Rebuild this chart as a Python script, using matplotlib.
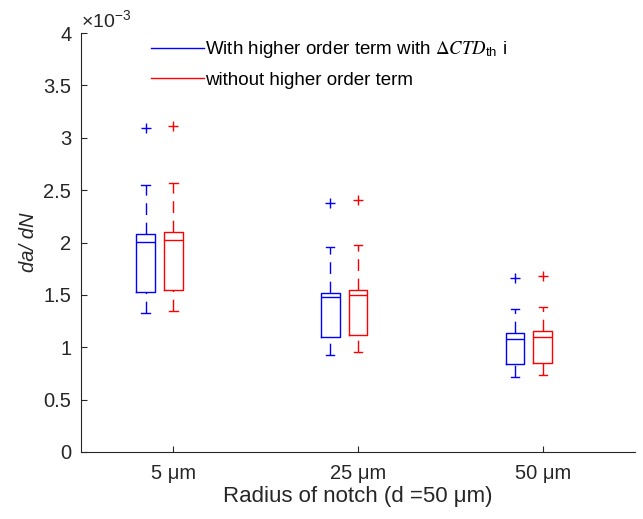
import matplotlib
matplotlib.use("Agg")
import matplotlib.pyplot as plt
from matplotlib.lines import Line2D
from matplotlib.ticker import FuncFormatter

plt.rcParams['font.family'] = ['Liberation Sans', 'DejaVu Sans']
plt.rcParams['mathtext.fontset'] = 'stix'

# ---- data (da/dN values) ----
categories = ['5 μm', '25 μm', '50 μm']
series_labels = [r'With higher order term with $\Delta\mathit{CTD}_{\mathregular{th}}$ i',
                 'without higher order term']
# per group: [lower whisker, q1, median, q3, upper whisker], outliers
with_hot_stats = [
    [1.330e-3, 1.527e-3, 2.002e-3, 2.081e-3, 2.552e-3],
    [0.929e-3, 1.095e-3, 1.477e-3, 1.518e-3, 1.954e-3],
    [0.719e-3, 0.837e-3, 1.082e-3, 1.133e-3, 1.368e-3],
]
with_hot_outliers = [[3.096e-3], [2.377e-3], [1.664e-3]]
without_hot_stats = [
    [1.349e-3, 1.550e-3, 2.021e-3, 2.100e-3, 2.571e-3],
    [0.958e-3, 1.120e-3, 1.502e-3, 1.550e-3, 1.979e-3],
    [0.738e-3, 0.853e-3, 1.098e-3, 1.152e-3, 1.384e-3],
]
without_hot_outliers = [[3.115e-3], [2.406e-3], [1.680e-3]]
yticks = [0, 0.5, 1, 1.5, 2, 2.5, 3, 3.5, 4]
scale = 1e3  # axis shown in units of 10^-3

colors = ['#0000ff', '#ff0000']
offsets = [-0.15, 0.0]

fig = plt.figure(figsize=(6.43, 5.19), dpi=100)
ax = fig.add_axes([0.126, 0.1291, 0.8616, 0.8073])

def make_stats(stats, outl):
    out = []
    for s, o in zip(stats, outl):
        out.append(dict(whislo=s[0] * scale, q1=s[1] * scale, med=s[2] * scale,
                        q3=s[3] * scale, whishi=s[4] * scale,
                        fliers=[v * scale for v in o]))
    return out

for stats, outl, col, off in [(with_hot_stats, with_hot_outliers, colors[0], offsets[0]),
                              (without_hot_stats, without_hot_outliers, colors[1], offsets[1])]:
    pos = [i + 1 + off for i in range(len(categories))]
    res = ax.bxp(make_stats(stats, outl), positions=pos, widths=0.1,
                 capwidths=0.045, showfliers=True, manage_ticks=False,
                 boxprops=dict(color=col, lw=1.0),
                 medianprops=dict(color=col, lw=1.0),
                 whiskerprops=dict(color=col, lw=1.0, ls=(0, (8.5, 5.5))),
                 capprops=dict(color=col, lw=1.0),
                 flierprops=dict(marker='+', markeredgecolor=col, markersize=7.5,
                                 markeredgewidth=1.0, linestyle='none'))
    # draw lower whiskers upward (from whisker end to box), as in the original
    for k, w in enumerate(res['whiskers']):
        if k % 2 == 0:
            w.set_xdata(list(w.get_xdata())[::-1])
            w.set_ydata(list(w.get_ydata())[::-1])

ax.set_xlim(0.5, 3.5)
ax.set_ylim(0, 4)
ax.set_xticks([1, 2, 3])
ax.set_xticklabels(categories)
ax.set_yticks(yticks)
ax.yaxis.set_major_formatter(FuncFormatter(lambda v, p: '%g' % v))

for sp in ['top', 'right']:
    ax.spines[sp].set_visible(False)
for sp in ['left', 'bottom']:
    ax.spines[sp].set_color('#262626')
    ax.spines[sp].set_linewidth(0.8)
ax.tick_params(direction='in', length=4, width=0.8, color='#262626',
               labelsize=14.5, labelcolor='#262626')
ax.tick_params(axis='y', pad=7)
ax.tick_params(axis='x', pad=9)

ax.set_xlabel('Radius of notch (d =50 μm)', fontsize=16, color='#262626', labelpad=2)
ax.set_ylabel('da/ dN', fontsize=14.5, style='italic', color='#262626', labelpad=4)

ax.text(0.0, 1.005, r'$\mathregular{\times 10^{-3}}$', transform=ax.transAxes,
        fontsize=14, color='#262626', ha='left', va='bottom')

handles = [Line2D([], [], color=c, lw=1.0) for c in colors]
ax.legend(handles, series_labels, loc='upper left', bbox_to_anchor=(0.096, 1.025),
          frameon=False, fontsize=13.5, handlelength=2.8, handletextpad=0.1,
          labelspacing=0.6)

fig.savefig('out.png', dpi=100)
